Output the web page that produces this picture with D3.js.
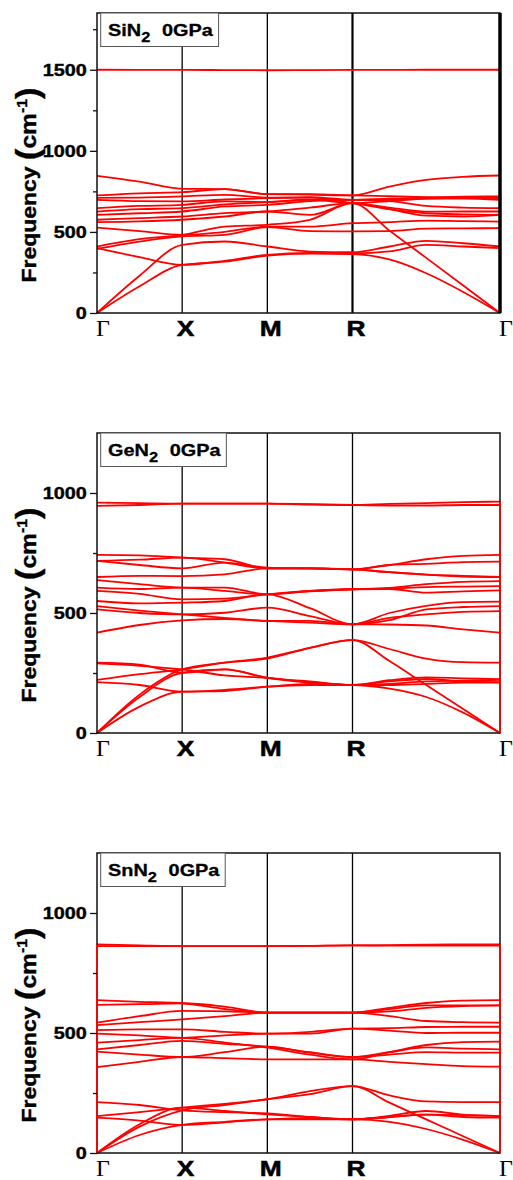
<!DOCTYPE html>
<html>
<head>
<meta charset="utf-8">
<script src="https://cdnjs.cloudflare.com/ajax/libs/d3/7.8.5/d3.min.js"></script>
<style>
  body { margin: 0; background: #fff; }
  svg { display: block; }
</style>
</head>
<body>
<div id="chart"></div>
<script>
// k-path: Γ - X - M - R - Γ (simple cubic, path length in units of 2π/a)
const kNodes = [0, 0.5, 1.0, 1.5, 2.366];
const kLabels = ["Γ", "X", "M", "R", "Γ"];
// sample points along the path for each band (Γ, ½ΓX, X, ½XM, M, ½MR, R, ¼RΓ, ½RΓ, ¾RΓ, Γ)
const kSamples = [0, 0.25, 0.5, 0.75, 1.0, 1.25, 1.5, 1.717, 1.933, 2.15, 2.366];

// frequencies in cm-1
const siN2Bands = [
  [0, 165, 297, 317, 354, 366, 363, 330, 245, 130, 0],
  [0, 230, 420, 441, 410, 379, 375, 410, 445, 430, 410],
  [400, 345, 297, 322, 359, 370, 368, 380, 420, 410, 400],
  [410, 455, 482, 533, 544, 575, 677, 508, 340, 170, 0],
  [395, 440, 472, 482, 529, 505, 503, 505, 520, 522, 523],
  [527, 505, 482, 500, 533, 533, 554, 560, 570, 566, 564],
  [560, 565, 575, 595, 626, 605, 677, 640, 600, 595, 605],
  [575, 585, 595, 616, 626, 650, 677, 650, 625, 626, 626],
  [605, 615, 626, 657, 667, 690, 698, 690, 660, 650, 647],
  [625, 640, 647, 670, 684, 698, 698, 700, 705, 705, 698],
  [647, 660, 667, 688, 684, 700, 677, 690, 705, 710, 710],
  [698, 690, 688, 700, 708, 712, 677, 640, 615, 608, 605],
  [710, 712, 719, 729, 712, 715, 698, 705, 712, 717, 719],
  [725, 738, 745, 764, 733, 733, 725, 720, 715, 712, 710],
  [846, 810, 766, 764, 733, 730, 725, 780, 821, 840, 848],
  [1500, 1499, 1499, 1498, 1497, 1498, 1499, 1499, 1500, 1500, 1500]
];

const geN2Bands = [
  [0, 110, 172, 175, 193, 200, 200, 185, 150, 85, 0],
  [0, 150, 251, 265, 230, 210, 200, 205, 215, 218, 221],
  [0, 160, 265, 293, 310, 355, 387, 300, 200, 100, 0],
  [212, 200, 172, 180, 193, 205, 200, 215, 225, 215, 212],
  [221, 245, 265, 293, 314, 355, 387, 350, 310, 295, 293],
  [293, 285, 251, 265, 230, 215, 200, 220, 232, 228, 224],
  [290, 280, 265, 240, 230, 212, 200, 200, 205, 210, 210],
  [418, 450, 469, 475, 467, 460, 453, 452, 448, 432, 418],
  [515, 500, 494, 501, 522, 487, 453, 480, 494, 505, 508],
  [529, 510, 494, 480, 467, 467, 453, 470, 515, 525, 529],
  [550, 540, 543, 550, 578, 520, 453, 500, 530, 545, 547],
  [592, 580, 557, 560, 578, 592, 599, 600, 585, 590, 594],
  [606, 600, 606, 592, 578, 590, 599, 602, 608, 610, 612],
  [637, 620, 606, 606, 578, 592, 599, 605, 620, 630, 633],
  [650, 655, 654, 661, 686, 686, 682, 670, 660, 655, 650],
  [717, 700, 686, 710, 689, 686, 682, 670, 660, 652, 650],
  [742, 740, 731, 724, 686, 686, 682, 700, 724, 738, 742],
  [717, 722, 731, 710, 686, 686, 682, 700, 705, 712, 714],
  [946, 950, 956, 956, 956, 952, 950, 955, 958, 962, 964],
  [960, 958, 956, 956, 956, 954, 950, 948, 948, 950, 950]
];

const snN2Bands = [
  [0, 75, 117, 130, 140, 140, 140, 130, 100, 55, 0],
  [0, 110, 178, 200, 224, 245, 279, 210, 140, 70, 0],
  [0, 120, 189, 175, 161, 150, 140, 150, 160, 158, 154],
  [147, 135, 117, 128, 140, 145, 140, 150, 160, 150, 147],
  [154, 170, 189, 205, 224, 258, 279, 240, 215, 212, 212],
  [212, 200, 178, 170, 165, 150, 140, 155, 175, 160, 154],
  [358, 380, 400, 395, 390, 390, 390, 380, 370, 362, 360],
  [422, 410, 400, 420, 443, 418, 400, 410, 420, 418, 418],
  [432, 450, 467, 455, 443, 420, 400, 420, 440, 435, 432],
  [460, 470, 480, 460, 439, 410, 390, 420, 450, 462, 464],
  [497, 490, 480, 490, 497, 497, 518, 510, 500, 501, 501],
  [512, 515, 515, 505, 497, 505, 518, 520, 525, 526, 526],
  [533, 545, 557, 570, 585, 585, 585, 570, 550, 545, 543],
  [543, 570, 592, 590, 585, 585, 585, 600, 615, 615, 615],
  [617, 620, 624, 610, 585, 585, 585, 605, 625, 635, 637],
  [637, 630, 624, 600, 585, 585, 585, 590, 605, 612, 615],
  [869, 865, 862, 862, 862, 863, 865, 866, 868, 869, 869],
  [862, 862, 862, 862, 862, 863, 865, 864, 864, 864, 864]
];

const siN2Major = [0, 500, 1000, 1500];
const siN2Minor = [250, 750, 1250, 1750];
const lowMajor = [0, 500, 1000];
const lowMinor = [250, 750];

const panels = [
  { top: 13,  name: "SiN", sub: "2", tail: "0GPa", bands: siN2Bands, yMax: 1850,
    major: siN2Major, minor: siN2Minor, heavy: true, redEdges: [] },
  { top: 433, name: "GeN", sub: "2", tail: "0GPa", bands: geN2Bands, yMax: 1250,
    major: lowMajor, minor: lowMinor, heavy: false, redEdges: [4] },
  { top: 853, name: "SnN", sub: "2", tail: "0GPa", bands: snN2Bands, yMax: 1250,
    major: lowMajor, minor: lowMinor, heavy: false, redEdges: [0, 4] }
];

const width = 513, height = 1180;
const left = 97, plotW = 403, plotH = 300;
const stretch = 1.2;   // the source figure is horizontally stretched
const sans = "'Liberation Sans', Arial, sans-serif";

const svg = d3.select("#chart").append("svg")
  .attr("width", width)
  .attr("height", height);

const x = d3.scaleLinear().domain([0, kNodes[4]]).range([left, left + plotW]);

panels.forEach(p => drawPanel(p));

// slightly heavier strokes on the bold text, like the source
function heavy(sel, w) {
  sel.attr("stroke", "#000").attr("stroke-width", w).attr("paint-order", "stroke");
}

function drawPanel(p) {
  const bottom = p.top + plotH;
  const y = d3.scaleLinear().domain([0, p.yMax]).range([bottom, p.top]);
  const g = svg.append("g");

  // high-symmetry lines
  g.selectAll(".kline")
    .data(kNodes.slice(1, 4))
    .join("line")
    .attr("x1", d => x(d)).attr("x2", d => x(d))
    .attr("y1", p.top).attr("y2", bottom)
    .attr("stroke", "#000")
    .attr("stroke-width", (d, i) => (p.heavy && i === 2) ? 2.2 : 1.3);

  // phonon bands
  const line = d3.line()
    .x((d, i) => x(kSamples[i]))
    .y(d => y(d))
    .curve(d3.curveMonotoneX);

  g.selectAll(".band")
    .data(p.bands)
    .join("path")
    .attr("class", "band")
    .attr("d", line)
    .attr("fill", "none")
    .attr("stroke", "#ff0000")
    .attr("stroke-width", 1.8);

  // frame
  g.append("rect")
    .attr("x", left).attr("y", p.top)
    .attr("width", plotW).attr("height", plotH)
    .attr("fill", "none")
    .attr("stroke", "#111")
    .attr("stroke-width", 1.5);

  // red segments along the frame edge at Γ (plotting artefact in the source)
  p.redEdges.forEach(idx => {
    const top = d3.max(p.bands, b => b[idx === 0 ? 0 : 10]);
    g.append("line")
      .attr("x1", x(kNodes[idx])).attr("x2", x(kNodes[idx]))
      .attr("y1", y(0)).attr("y2", y(top))
      .attr("stroke", "#ff0000")
      .attr("stroke-width", 1.7);
  });

  if (p.heavy) {
    g.append("line")
      .attr("x1", x(kNodes[4])).attr("x2", x(kNodes[4]))
      .attr("y1", p.top).attr("y2", bottom)
      .attr("stroke", "#000")
      .attr("stroke-width", 3.5);
  }

  // y axis
  const axis = g.append("g")
    .attr("transform", `translate(${left},0)`)
    .call(d3.axisLeft(y).tickValues(p.major).tickSize(7).tickFormat(d3.format("d")));
  axis.select(".domain").remove();
  axis.selectAll("line").attr("stroke", "#111").attr("stroke-width", 1.3);
  axis.selectAll("text")
    .attr("x", -8.6)
    .attr("dy", "0.35em")
    .attr("transform", `scale(${stretch},1)`)
    .attr("fill", "#000")
    .style("font-family", sans)
    .style("font-weight", "bold")
    .style("font-size", "16.5px")
    .call(heavy, 0.4);

  const minorAxis = g.append("g")
    .attr("transform", `translate(${left},0)`)
    .call(d3.axisLeft(y).tickValues(p.minor).tickSize(4).tickFormat(""));
  minorAxis.select(".domain").remove();
  minorAxis.selectAll("line").attr("stroke", "#111").attr("stroke-width", 1.3);

  // y label
  const yl = g.append("text")
    .attr("transform", `translate(36,${p.top + 172}) rotate(-90) scale(1.12,1)`)
    .attr("text-anchor", "middle")
    .attr("fill", "#000")
    .style("font-family", sans)
    .style("font-weight", "bold")
    .style("font-size", "20.5px")
    .call(heavy, 0.4);
  yl.append("tspan").text("Frequency ");
  yl.append("tspan").style("font-size", "31px").attr("dy", 2).text("(");
  yl.append("tspan").style("font-size", "22px").attr("dy", -2).text("cm");
  yl.append("tspan").style("font-size", "14px").attr("dy", -9).text("-1");
  yl.append("tspan").style("font-size", "31px").attr("dy", 11).text(")");

  // k-point labels
  kLabels.forEach((lab, i) => {
    const isGamma = lab === "Γ";
    const t = g.append("text")
      .attr("transform", `translate(${x(kNodes[i]) + (isGamma ? 6 : 3.5)},${bottom + 23}) scale(${isGamma ? 1.0 : stretch},1)`)
      .attr("text-anchor", "middle")
      .attr("fill", "#000")
      .style("font-family", isGamma ? "'Liberation Serif', 'Times New Roman', serif" : sans)
      .style("font-weight", isGamma ? "normal" : "bold")
      .style("font-size", isGamma ? "24px" : "22px")
      .text(lab);
    if (!isGamma) t.call(heavy, 0.5);
  });

  // title box
  const box = g.append("rect")
    .attr("x", 100.7).attr("y", p.top)
    .attr("height", 33.5)
    .attr("fill", "#fff")
    .attr("stroke", "#555")
    .attr("stroke-width", 1);
  const tt = g.append("text")
    .attr("transform", `translate(108,${p.top + 23}) scale(1.17,1)`)
    .attr("fill", "#000")
    .style("font-family", sans)
    .style("font-weight", "bold")
    .style("font-size", "17px")
    .call(heavy, 0.3);
  tt.append("tspan").text(p.name);
  tt.append("tspan").style("font-size", "14px").attr("dy", 6).text(p.sub);
  tt.append("tspan").attr("dx", 10).attr("dy", -6).text(p.tail);
  const bb = tt.node().getBBox();
  box.attr("width", 7.3 + bb.width * 1.17 + 5);
}
</script>
</body>
</html>
